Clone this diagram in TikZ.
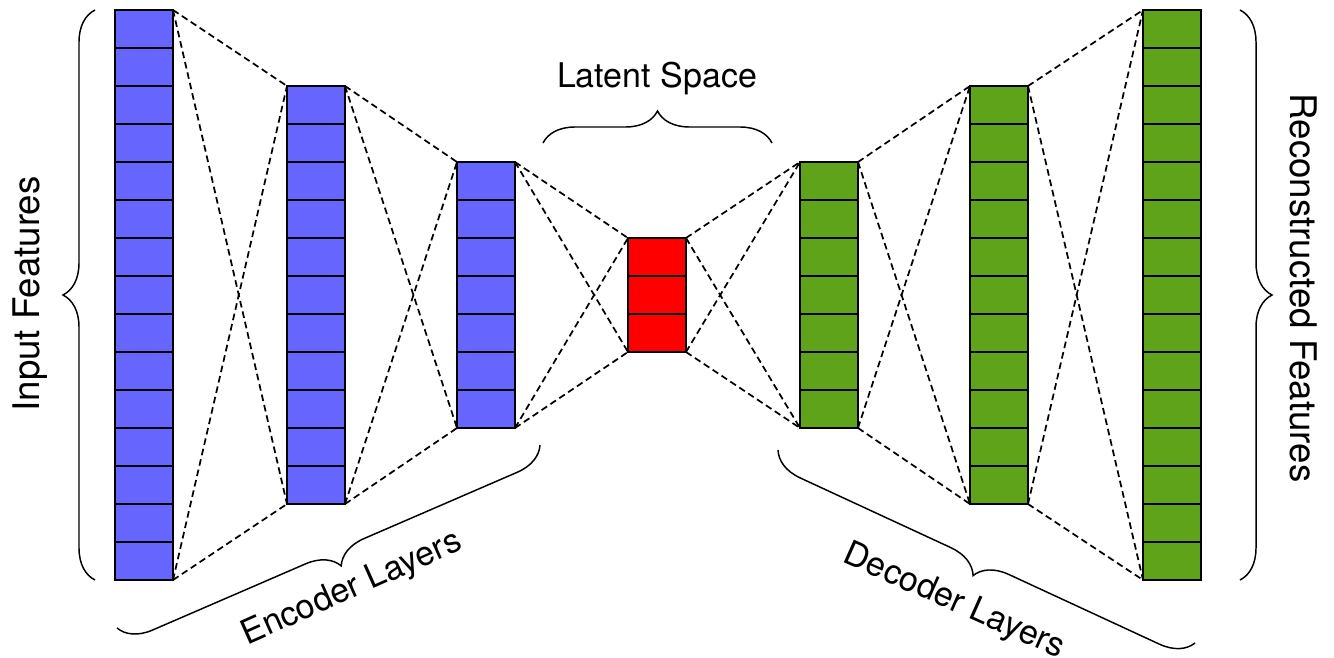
\documentclass[tikz,border=0pt]{standalone}
\usepackage{fontspec}
\setmainfont{TeX Gyre Heros}
\usetikzlibrary{decorations.pathreplacing}
\definecolor{encblue}{RGB}{102,102,255}
\definecolor{decgreen}{RGB}{95,163,26}
\definecolor{latred}{RGB}{255,0,0}
\begin{document}
\begin{tikzpicture}[x=0.75pt,y=0.75pt]
            \tikzstyle{every node}+=[inner sep=0pt, outer sep=0pt]
            \tikzstyle{layer}=[draw=black, line width=1.4pt, minimum width=43.5pt]
            \tikzstyle{link}=[black, line width=1.3pt, dash pattern=on 5pt off 3pt]
            \tikzstyle{bracket}=[black, line width=1.1pt, decorate, decoration={brace, amplitude=24pt}]
            \tikzstyle{lbl}=[font=\fontsize{25.5}{30}\selectfont]
            \tikzstyle{sidelbl}=[font=\fontsize{27.5}{32}\selectfont]
            \useasboundingbox (0,0) rectangle (1334,-657);
            \foreach \name/\x/\n/\col in {inp/144/15/encblue, enc1/316/11/encblue, enc2/486/7/encblue, lat/657/3/latred, dec1/829/7/decgreen, dec2/999/11/decgreen, outp/1172/15/decgreen} {
                \node [layer, fill=\col, minimum height=\n*28.5pt] (\name) at (\x,-295) {};
                \pgfmathtruncatemacro{\m}{\n-1}
                \foreach \i in {1,...,\m}
                    \draw [line width=1.4pt] (\name.north west) ++(0,{-\i*38}) -- ++(58,0);
            }
            \foreach \a/\b in {inp/enc1, enc1/enc2, enc2/lat, lat/dec1, dec1/dec2, dec2/outp} {
                \draw [link] (\a.north east) -- (\b.north west);
                \draw [link] (\a.north east) -- (\b.south west);
                \draw [link] (\a.south east) -- (\b.north west);
                \draw [link] (\a.south east) -- (\b.south west);
            }
            \coordinate (inTop) at (95,-10);
            \coordinate (inBot) at (95,-580);
            \coordinate (outTop) at (1240,-10);
            \coordinate (outBot) at (1240,-580);
            \coordinate (latL) at (543,-143);
            \coordinate (latR) at (772,-143);
            \coordinate (encL) at (117,-628);
            \coordinate (encR) at (540,-445);
            \coordinate (decL) at (778,-450);
            \coordinate (decR) at (1195,-643);
            \draw [bracket] (inBot) -- (inTop);
            \draw [bracket] (outTop) -- (outBot);
            \draw [bracket] (latL) -- (latR);
            \draw [bracket] (encR) -- (encL);
            \draw [bracket] (decR) -- (decL);
            \node [sidelbl, rotate=90] (inLbl) at (30,-294) {Input Features};
            \node [sidelbl, rotate=-90] (outLbl) at (1304,-288) {Reconstructed Features};
            \node [lbl, anchor=base] (latLbl) at (657,-87) {Latent Space};
            \node [lbl, rotate=24] (encLbl) at (352,-589) {Encoder Layers};
            \node [lbl, rotate=-24] (decLbl) at (954,-602) {Decoder Layers};
\end{tikzpicture}
\end{document}
